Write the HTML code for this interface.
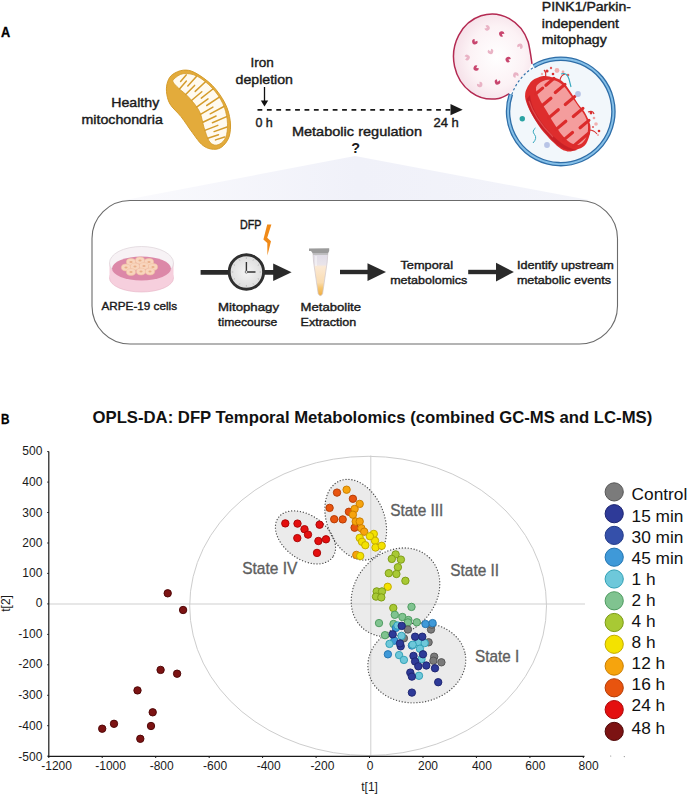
<!DOCTYPE html><html><head><meta charset="utf-8"><style>html,body{margin:0;padding:0;background:#fff;}svg{display:block;}text{font-family:"Liberation Sans",sans-serif;}</style></head><body>
<svg width="689" height="794" viewBox="0 0 689 794">
<defs>
<linearGradient id="wedge" gradientUnits="userSpaceOnUse" x1="125" y1="0" x2="590" y2="0"><stop offset="0" stop-color="#fafafd"/><stop offset="0.5" stop-color="#f0f1f9"/><stop offset="1" stop-color="#f3f4fa"/></linearGradient>
<radialGradient id="lyso" cx="0.55" cy="0.5" r="0.55"><stop offset="0" stop-color="#ffffff"/><stop offset="0.65" stop-color="#fcf2f5"/><stop offset="1" stop-color="#f5e0e8"/></radialGradient>
<radialGradient id="clockf" cx="0.5" cy="0.5" r="0.5"><stop offset="0" stop-color="#f4f4f4"/><stop offset="1" stop-color="#dcdcdc"/></radialGradient>
<linearGradient id="tube" x1="0" y1="0" x2="0" y2="1"><stop offset="0" stop-color="#dedae6"/><stop offset="0.28" stop-color="#e9e4ea"/><stop offset="0.33" stop-color="#fbe9d4"/><stop offset="0.7" stop-color="#fadcb0"/><stop offset="0.82" stop-color="#f6c670"/><stop offset="1" stop-color="#f1ad40"/></linearGradient>
</defs>
<text x="1" y="37.4" font-size="13.8" font-weight="700" fill="#000" text-anchor="start" textLength="9.2" lengthAdjust="spacingAndGlyphs" stroke="#000" stroke-width="0.3" >A</text>
<path d="M355,156 L589,200 L125,200 Z" fill="url(#wedge)"/>
<path d="M172.8,74.3 C175.4,72.5 179.5,70.5 183.2,70.2 C186.9,69.9 190.0,70.1 194.8,72.6 C199.7,75.1 207.3,80.3 212.3,85.4 C217.3,90.5 222.0,97.4 225.0,103.3 C228.0,109.2 229.5,115.1 230.2,120.7 C230.9,126.3 230.5,132.5 229.0,137.0 C227.5,141.5 224.0,145.5 221.0,147.5 C218.0,149.5 214.3,149.5 211.1,149.0 C207.9,148.5 204.9,147.2 201.8,144.5 C198.7,141.8 196.0,137.5 192.5,132.8 C189.0,128.2 184.8,121.4 181.0,116.6 C177.2,111.8 172.4,108.2 170.0,104.0 C167.6,99.8 166.9,95.5 166.5,91.7 C166.1,87.9 166.8,84.2 167.8,81.3 C168.9,78.4 170.2,76.1 172.8,74.3Z" fill="#e3ab3b" stroke="#d49b2a" stroke-width="1"/>
<path d="M174.0,79.0 C175.6,77.5 179.3,74.2 183.2,73.7 C187.1,73.2 192.3,73.8 197.2,76.2 C202.0,78.6 208.1,83.7 212.3,88.2 C216.6,92.7 220.2,98.1 222.7,103.3 C225.2,108.5 226.5,114.4 227.2,119.6 C227.8,124.8 227.5,130.8 226.6,134.7 C225.7,138.6 223.6,141.1 221.6,142.8 C219.6,144.5 216.7,145.5 214.6,145.1 C212.5,144.7 210.6,143.4 208.8,140.5 C207.1,137.6 205.7,132.5 204.1,127.7 C202.5,122.9 202.0,116.5 199.5,111.5 C197.0,106.5 192.5,101.4 189.0,97.5 C185.5,93.6 181.2,90.7 178.6,88.2 C176.0,85.7 174.2,83.9 173.4,82.4 C172.6,80.9 172.4,80.5 174.0,79.0Z" fill="#fffaef" stroke="#d39a2a" stroke-width="0.8"/>
<path d="M186.2,74.9 l-5.6,6.6 M196.4,76.6 l-8.6,9.4 M205.5,81.7 l-10.3,9.7 M212.9,89.0 l-11.6,9.1 M219.3,97.2 l-12.6,8.3 M223.9,106.5 l-13.7,7.3 M226.6,116.6 l-14.2,6.1 M227.0,127.0 l-12.9,4.6 M224.6,137.0 l-9.1,2.9 M179.5,89.0 l6.9,-8.0 M185.7,94.5 l8.9,-9.1 M191.5,100.5 l10.3,-8.8 M196.6,107.1 l11.4,-8.2 M200.5,114.4 l12.4,-7.3 M202.9,122.3 l13.2,-6.3 M204.9,130.4 l12.9,-5.0 M207.8,138.2 l10.7,-3.5" stroke="#d49c2c" stroke-width="1.5" stroke-linecap="round" fill="none"/>
<text x="111.3" y="106.8" font-size="13" font-weight="400" fill="#1a1a1a" text-anchor="start" textLength="47.9" lengthAdjust="spacingAndGlyphs" stroke="#1a1a1a" stroke-width="0.4" >Healthy</text>
<text x="81.5" y="123.9" font-size="13" font-weight="400" fill="#1a1a1a" text-anchor="start" textLength="81.3" lengthAdjust="spacingAndGlyphs" stroke="#1a1a1a" stroke-width="0.4" >mitochondria</text>
<text x="250.5" y="67.4" font-size="13.5" font-weight="400" fill="#1a1a1a" text-anchor="start" textLength="23.3" lengthAdjust="spacingAndGlyphs" stroke="#1a1a1a" stroke-width="0.4" >Iron</text>
<text x="235.5" y="83.7" font-size="13.5" font-weight="400" fill="#1a1a1a" text-anchor="start" textLength="57.5" lengthAdjust="spacingAndGlyphs" stroke="#1a1a1a" stroke-width="0.4" >depletion</text>
<line x1="264.5" y1="87" x2="264.5" y2="102" stroke="#111" stroke-width="1.3"/>
<path d="M260.8,100.5 L268.2,100.5 L264.5,106.5 Z" fill="#111"/>
<line x1="257.5" y1="109.8" x2="451" y2="109.8" stroke="#1a1a1a" stroke-width="1.8" stroke-dasharray="4.8 4.6"/>
<path d="M450.5,104.1 L462.7,109.7 L450.5,115.3 Z" fill="#1a1a1a"/>
<text x="255.4" y="126.7" font-size="13" font-weight="400" fill="#1a1a1a" text-anchor="start" textLength="17.4" lengthAdjust="spacingAndGlyphs" stroke="#1a1a1a" stroke-width="0.4" >0 h</text>
<text x="433.5" y="126.8" font-size="13" font-weight="400" fill="#1a1a1a" text-anchor="start" textLength="25.3" lengthAdjust="spacingAndGlyphs" stroke="#1a1a1a" stroke-width="0.4" >24 h</text>
<text x="291.9" y="136.4" font-size="13" font-weight="400" fill="#1a1a1a" text-anchor="start" textLength="130.1" lengthAdjust="spacingAndGlyphs" stroke="#1a1a1a" stroke-width="0.4" >Metabolic regulation</text>
<text x="351.2" y="152.9" font-size="15" font-weight="700" fill="#1a1a1a" text-anchor="start" textLength="8.8" lengthAdjust="spacingAndGlyphs" >?</text>
<path d="M509,93.7 C505,96 502,97.8 498.7,98.4 A38.5,42.5 0 1 1 528.2,42 C530,49 531,57 532,63.8 L520,85 Z" fill="url(#lyso)"/>
<path d="M509,93.7 C505,96 502,97.8 498.7,98.4 A38.5,42.5 0 1 1 528.2,42 C530,49 531,57 532,63.8" fill="none" stroke="#b42a52" stroke-width="1.5"/>
<path d="M487.00,27.90 L485.45,25.69 A2.7,2.7 0 1 1 484.39,28.60 Z" fill="#e9b3c5"/>
<path d="M501.80,34.00 L502.94,36.45 A2.7,2.7 0 1 1 504.49,33.76 Z" fill="#c8456e"/>
<path d="M474.80,41.80 L477.25,40.66 A2.7,2.7 0 1 1 474.56,39.11 Z" fill="#c8456e"/>
<path d="M520.00,46.20 L517.55,47.34 A2.7,2.7 0 1 1 520.24,48.89 Z" fill="#e9b3c5"/>
<path d="M490.50,51.40 L491.20,48.79 A2.7,2.7 0 1 1 488.29,49.85 Z" fill="#e9b3c5"/>
<path d="M467.00,57.50 L464.55,56.36 A2.7,2.7 0 1 1 465.09,59.41 Z" fill="#e9b3c5"/>
<path d="M508.30,59.60 L509.85,61.81 A2.7,2.7 0 1 1 510.91,58.90 Z" fill="#c8456e"/>
<path d="M476.20,68.00 L478.89,68.24 A2.7,2.7 0 1 1 477.34,65.55 Z" fill="#c8456e"/>
<path d="M515.80,75.00 L515.56,77.69 A2.7,2.7 0 1 1 518.25,76.14 Z" fill="#e9b3c5"/>
<path d="M497.50,81.90 L499.71,80.35 A2.7,2.7 0 1 1 496.80,79.29 Z" fill="#c8456e"/>
<path d="M479.70,84.50 L479.46,81.81 A2.7,2.7 0 1 1 477.09,83.80 Z" fill="#e9b3c5"/>
<circle cx="561" cy="111.6" r="52.5" fill="#f2f7fb"/>
<path d="M533.7,66.2 A52.7,52.7 0 1 1 510.9,94.3" fill="none" stroke="#2f6ea8" stroke-width="4.5"/>
<path d="M533.7,66.2 A52.7,52.7 0 1 1 510.9,94.3" fill="none" stroke="#86c0e8" stroke-width="1.9"/>
<path d="M511.8,94.6 A52,52 0 0 1 534.2,67" fill="none" stroke="#2f6ea8" stroke-width="1.1" stroke-dasharray="2.4 2.2"/>
<path d="M525.2,93.4 C525.8,89.5 528.8,84.5 531.0,81.8 C533.2,79.1 535.8,78.4 538.2,77.4 C540.6,76.4 543.1,76.0 545.5,76.0 C547.9,76.0 550.5,76.9 552.7,77.4 C554.9,77.9 556.6,77.9 558.5,78.9 C560.4,79.9 562.1,80.8 564.3,83.2 C566.5,85.6 569.2,89.8 571.6,93.4 C574.0,97.0 576.7,101.9 578.9,105.0 C581.1,108.1 583.0,109.5 584.7,112.2 C586.4,114.9 588.0,118.3 589.0,121.0 C590.0,123.7 590.5,125.5 590.5,128.2 C590.5,130.8 590.0,134.0 589.0,136.9 C588.0,139.8 586.9,143.4 584.7,145.6 C582.5,147.8 578.9,149.0 576.0,150.0 C573.1,151.0 570.2,151.9 567.3,151.4 C564.4,150.9 562.4,150.2 558.5,147.1 C554.6,144.0 548.1,137.4 544.0,132.6 C539.9,127.8 536.7,122.6 533.9,118.0 C531.1,113.4 528.8,109.1 527.3,105.0 C525.8,100.9 524.6,97.3 525.2,93.4Z" fill="#de2d2d"/>
<path d="M526.5,99 C528,112 540,128 552,140 C560,148 568,152 577,150 C566,148 556,140 547,129 C537,117 531,106 530,95 Z" fill="#c41f26" opacity="0.85"/>
<path d="M529,101 C533,114 543,127 553,137" fill="none" stroke="#ea5a5a" stroke-width="1.2" opacity="0.7"/>
<path d="M536.0,87.5 C536.5,84.8 539.7,82.8 542.0,81.5 C544.3,80.2 547.4,79.8 550.0,79.8 C552.6,79.8 555.1,80.3 557.5,81.5 C559.9,82.7 562.2,84.5 564.5,87.0 C566.8,89.5 569.2,93.2 571.5,96.5 C573.8,99.8 576.3,103.4 578.5,106.5 C580.7,109.6 583.0,112.1 584.5,115.0 C586.0,117.9 587.3,120.9 587.8,124.0 C588.3,127.1 588.1,130.7 587.5,133.5 C586.9,136.3 585.6,139.1 584.0,141.0 C582.4,142.9 580.3,144.8 578.0,145.0 C575.7,145.2 572.7,144.2 570.0,142.5 C567.3,140.8 564.7,138.2 562.0,135.0 C559.3,131.8 556.7,127.7 554.0,123.5 C551.3,119.3 548.5,114.2 546.0,110.0 C543.5,105.8 540.7,101.8 539.0,98.0 C537.3,94.2 535.5,90.2 536.0,87.5Z" fill="#f49d9d"/>
<path d="M553.9,78.4 l-8.0,6.8 M564.9,84.4 l-9.6,8.1 M574.9,96.4 l-9.6,8.1 M582.9,108.4 l-9.6,8.1 M588.9,120.4 l-8.8,7.4 M588.4,133.4 l-8.0,6.8 M535.7,93.9 l6.9,-5.8 M541.7,105.9 l9.2,-7.7 M548.7,117.9 l9.6,-8.1 M556.2,129.4 l9.6,-8.1 M563.7,139.9 l8.8,-7.4 M573.7,145.9 l6.1,-5.2" stroke="#dc2b2b" stroke-width="3.2" stroke-linecap="round" fill="none"/>
<circle cx="547" cy="71" r="1.6" fill="#d83030"/>
<circle cx="551" cy="68" r="1.2" fill="#e55a5a"/>
<circle cx="557" cy="70.5" r="2.4" fill="#f3b0b0"/>
<circle cx="563" cy="72" r="1.4" fill="#f0a8a8"/>
<circle cx="568" cy="75" r="1.3" fill="#e26060"/>
<circle cx="553" cy="74" r="1.3" fill="#d83030"/>
<circle cx="542" cy="74" r="1.2" fill="#f0b0b0"/>
<circle cx="591" cy="113" r="1.4" fill="#d83030"/>
<circle cx="594" cy="118" r="1.3" fill="#f0a0a0"/>
<circle cx="596" cy="124" r="1.8" fill="#f2b0b0"/>
<circle cx="599" cy="131" r="1.3" fill="#d83030"/>
<circle cx="593" cy="127" r="1.1" fill="#e26060"/>
<circle cx="598" cy="135" r="1.0" fill="#f0a0a0"/>
<path d="M545,78 q2,-5 -1,-8 M560,80 q1,-5 5,-6 M588,112 q5,-2 6,2 M589,130 q5,0 8,4" fill="none" stroke="#d83030" stroke-width="1.2"/>
<circle cx="522.3" cy="118.8" r="2.7" fill="#2aa3a3"/>
<circle cx="578" cy="94" r="2.9" fill="#b8c4e6"/>
<circle cx="547" cy="145" r="2.9" fill="#b8c4e6"/>
<path d="M535.5,128 q-4,3 -1,6.5 q3,3.5 -1.5,8.5" fill="none" stroke="#35a7bd" stroke-width="1"/>
<path d="M561,74 q6,-2 8,5 q1,4 2,8" fill="none" stroke="#35a7bd" stroke-width="1.1"/>
<text x="541.8" y="11.3" font-size="13" font-weight="400" fill="#1a1a1a" text-anchor="start" textLength="89.2" lengthAdjust="spacingAndGlyphs" stroke="#1a1a1a" stroke-width="0.4" >PINK1/Parkin-</text>
<text x="541.8" y="28.2" font-size="13" font-weight="400" fill="#1a1a1a" text-anchor="start" textLength="77.1" lengthAdjust="spacingAndGlyphs" stroke="#1a1a1a" stroke-width="0.4" >independent</text>
<text x="541.8" y="44.4" font-size="13" font-weight="400" fill="#1a1a1a" text-anchor="start" textLength="64.9" lengthAdjust="spacingAndGlyphs" stroke="#1a1a1a" stroke-width="0.4" >mitophagy</text>
<rect x="92" y="200.5" width="525.5" height="143.5" rx="38" ry="38" fill="none" stroke="#6b6b6b" stroke-width="1.1"/>
<ellipse cx="141.5" cy="278" rx="32" ry="14" fill="#f6cfdd" stroke="#e6b3c4" stroke-width="0.6"/>
<rect x="109.5" y="263" width="64" height="15" fill="#f6cfdd"/>
<ellipse cx="141.5" cy="263" rx="32" ry="16.5" fill="#f7f2f5" stroke="#dcd3d8" stroke-width="0.7"/>
<ellipse cx="141.5" cy="268.5" rx="29.5" ry="12" fill="#dc88a8"/>
<ellipse cx="131" cy="262" rx="4.6" ry="3.4" fill="#f8d5bd" stroke="#f2c3a3" stroke-width="0.6"/>
<ellipse cx="140" cy="260.5" rx="4.6" ry="3.4" fill="#f8d5bd" stroke="#f2c3a3" stroke-width="0.6"/>
<ellipse cx="149" cy="262" rx="4.6" ry="3.4" fill="#f8d5bd" stroke="#f2c3a3" stroke-width="0.6"/>
<ellipse cx="126" cy="267.5" rx="4.6" ry="3.4" fill="#f8d5bd" stroke="#f2c3a3" stroke-width="0.6"/>
<ellipse cx="135" cy="266.5" rx="4.6" ry="3.4" fill="#f8d5bd" stroke="#f2c3a3" stroke-width="0.6"/>
<ellipse cx="144" cy="266" rx="4.6" ry="3.4" fill="#f8d5bd" stroke="#f2c3a3" stroke-width="0.6"/>
<ellipse cx="153" cy="267" rx="4.6" ry="3.4" fill="#f8d5bd" stroke="#f2c3a3" stroke-width="0.6"/>
<ellipse cx="131" cy="272" rx="4.6" ry="3.4" fill="#f8d5bd" stroke="#f2c3a3" stroke-width="0.6"/>
<ellipse cx="141" cy="271.5" rx="4.6" ry="3.4" fill="#f8d5bd" stroke="#f2c3a3" stroke-width="0.6"/>
<ellipse cx="150" cy="271.5" rx="4.6" ry="3.4" fill="#f8d5bd" stroke="#f2c3a3" stroke-width="0.6"/>
<ellipse cx="131" cy="262" rx="1.6" ry="1.0" fill="#e8b08a"/>
<ellipse cx="140" cy="260.5" rx="1.6" ry="1.0" fill="#e8b08a"/>
<ellipse cx="149" cy="262" rx="1.6" ry="1.0" fill="#e8b08a"/>
<ellipse cx="126" cy="267.5" rx="1.6" ry="1.0" fill="#e8b08a"/>
<ellipse cx="135" cy="266.5" rx="1.6" ry="1.0" fill="#e8b08a"/>
<ellipse cx="144" cy="266" rx="1.6" ry="1.0" fill="#e8b08a"/>
<ellipse cx="153" cy="267" rx="1.6" ry="1.0" fill="#e8b08a"/>
<ellipse cx="131" cy="272" rx="1.6" ry="1.0" fill="#e8b08a"/>
<ellipse cx="141" cy="271.5" rx="1.6" ry="1.0" fill="#e8b08a"/>
<ellipse cx="150" cy="271.5" rx="1.6" ry="1.0" fill="#e8b08a"/>
<line x1="200.6" y1="272.3" x2="275" y2="272.3" stroke="#2a2a2a" stroke-width="4.8"/>
<path d="M273.2,263.5 L291.6,272.3 L273.2,281 Z" fill="#2a2a2a"/>
<circle cx="246.4" cy="272" r="17.2" fill="url(#clockf)" stroke="#2f2f2f" stroke-width="2.9"/>
<path d="M246.4,258.8 L246.4,257.4 M253.0,260.6 L253.7,259.4 M257.8,265.4 L259.0,264.7 M259.6,272.0 L261.0,272.0 M257.8,278.6 L259.0,279.3 M253.0,283.4 L253.7,284.6 M246.4,285.2 L246.4,286.6 M239.8,283.4 L239.1,284.6 M235.0,278.6 L233.8,279.3 M233.2,272.0 L231.8,272.0 M235.0,265.4 L233.8,264.7 M239.8,260.6 L239.1,259.4" stroke="#9a9a9a" stroke-width="0.6"/>
<path d="M246.4,262 L246.4,272 L255.5,272" fill="none" stroke="#333" stroke-width="1.4"/>
<circle cx="246.4" cy="272" r="1.2" fill="#fff" stroke="#333" stroke-width="0.6"/>
<text x="240" y="228.6" font-size="12.3" font-weight="400" fill="#1a1a1a" text-anchor="start" textLength="21.4" lengthAdjust="spacingAndGlyphs" stroke="#1a1a1a" stroke-width="0.45" >DFP</text>
<path d="M267.2,224.4 L271.4,224.6 L267.2,237.8 L271,241.2 L267.4,255.5 L267.3,243 L263.4,239.4 Z" fill="#f08a18"/>
<path d="M312.9,252.5 L327.9,252.5 L327.2,262 L322.6,293.8 Q320.4,297.5 318.2,293.8 L313.6,262 Z" fill="url(#tube)" stroke="#cfc6cc" stroke-width="0.7"/>
<path d="M316,256 L316,266" stroke="#ffffff" stroke-width="1.2" opacity="0.7"/>
<path d="M309,248.6 L329.2,248.2 L329.2,251 L327.9,253.5 L312.9,253.5 L311,251 L309,251 Z" fill="#9b9b9b"/>
<rect x="313" y="253.5" width="14.9" height="1.4" fill="#bcbcbc"/>
<line x1="340" y1="272" x2="369" y2="272" stroke="#2a2a2a" stroke-width="4.4"/>
<path d="M367.5,263.2 L386,272 L367.5,280.9 Z" fill="#2a2a2a"/>
<line x1="468.2" y1="272" x2="497.5" y2="272" stroke="#2a2a2a" stroke-width="4.4"/>
<path d="M496,262.8 L513.9,272 L496,281.4 Z" fill="#2a2a2a"/>
<text x="101.5" y="310.4" font-size="11.5" font-weight="400" fill="#1a1a1a" text-anchor="start" textLength="75.5" lengthAdjust="spacingAndGlyphs" stroke="#1a1a1a" stroke-width="0.4" >ARPE-19 cells</text>
<text x="218.1" y="311.3" font-size="11.5" font-weight="400" fill="#1a1a1a" text-anchor="start" textLength="60.9" lengthAdjust="spacingAndGlyphs" stroke="#1a1a1a" stroke-width="0.4" >Mitophagy</text>
<text x="218.1" y="325.7" font-size="11.5" font-weight="400" fill="#1a1a1a" text-anchor="start" textLength="59.2" lengthAdjust="spacingAndGlyphs" stroke="#1a1a1a" stroke-width="0.4" >timecourse</text>
<text x="300.6" y="311.3" font-size="11.5" font-weight="400" fill="#1a1a1a" text-anchor="start" textLength="60.4" lengthAdjust="spacingAndGlyphs" stroke="#1a1a1a" stroke-width="0.4" >Metabolite</text>
<text x="300.6" y="325.7" font-size="11.5" font-weight="400" fill="#1a1a1a" text-anchor="start" textLength="55.7" lengthAdjust="spacingAndGlyphs" stroke="#1a1a1a" stroke-width="0.4" >Extraction</text>
<text x="400.4" y="269.3" font-size="11.5" font-weight="400" fill="#1a1a1a" text-anchor="start" textLength="52.6" lengthAdjust="spacingAndGlyphs" stroke="#1a1a1a" stroke-width="0.4" >Temporal</text>
<text x="390.2" y="283.6" font-size="11.5" font-weight="400" fill="#1a1a1a" text-anchor="start" textLength="77.2" lengthAdjust="spacingAndGlyphs" stroke="#1a1a1a" stroke-width="0.4" >metabolomics</text>
<text x="516.9" y="269" font-size="11.5" font-weight="400" fill="#1a1a1a" text-anchor="start" textLength="96.8" lengthAdjust="spacingAndGlyphs" stroke="#1a1a1a" stroke-width="0.4" >Identify upstream</text>
<text x="516.9" y="283.7" font-size="11.5" font-weight="400" fill="#1a1a1a" text-anchor="start" textLength="94.1" lengthAdjust="spacingAndGlyphs" stroke="#1a1a1a" stroke-width="0.4" >metabolic events</text>
<text x="1" y="423.8" font-size="13.8" font-weight="700" fill="#000" text-anchor="start" textLength="8.5" lengthAdjust="spacingAndGlyphs" stroke="#000" stroke-width="0.3" >B</text>
<text x="92.5" y="422.6" font-size="16.3" font-weight="700" fill="#111" text-anchor="start" textLength="559.8" lengthAdjust="spacingAndGlyphs" >OPLS-DA: DFP Temporal Metabolomics (combined GC-MS and LC-MS)</text>
<ellipse cx="305.5" cy="537.4" rx="33.6" ry="21.9" transform="rotate(36 305.5 537.4)" fill="#ebebeb"/>
<ellipse cx="355.7" cy="519.7" rx="42" ry="28.6" transform="rotate(67.9 355.7 519.7)" fill="#ebebeb"/>
<ellipse cx="395.5" cy="592.4" rx="48.5" ry="39.8" transform="rotate(-45.4 395.5 592.4)" fill="#ebebeb"/>
<ellipse cx="416.8" cy="662.8" rx="49.2" ry="39.7" transform="rotate(-10 416.8 662.8)" fill="#ebebeb"/>
<line x1="49" y1="604" x2="585" y2="604" stroke="#cfcfcf" stroke-width="1"/>
<line x1="370.8" y1="455.5" x2="370.8" y2="756" stroke="#cfcfcf" stroke-width="1"/>
<ellipse cx="368.1" cy="605.9" rx="178.4" ry="149.6" fill="none" stroke="#cdcdcd" stroke-width="1"/>
<line x1="48.8" y1="451.5" x2="48.8" y2="756.9" stroke="#1a1a1a" stroke-width="1.2"/>
<line x1="48.2" y1="756.3" x2="584.5" y2="756.3" stroke="#1a1a1a" stroke-width="1.2"/>
<path d="M47.2,451.6 L48.8,451.6 M47.2,482.1 L48.8,482.1 M47.2,512.5 L48.8,512.5 M47.2,543.0 L48.8,543.0 M47.2,573.4 L48.8,573.4 M47.2,603.9 L48.8,603.9 M47.2,634.4 L48.8,634.4 M47.2,664.8 L48.8,664.8 M47.2,695.3 L48.8,695.3 M47.2,725.7 L48.8,725.7 M47.2,756.2 L48.8,756.2" stroke="#1a1a1a" stroke-width="1"/>
<path d="M48.8,756.3 L48.8,758 M102.2,756.3 L102.2,758 M155.7,756.3 L155.7,758 M209.2,756.3 L209.2,758 M262.6,756.3 L262.6,758 M316.1,756.3 L316.1,758 M369.5,756.3 L369.5,758 M423.0,756.3 L423.0,758 M476.4,756.3 L476.4,758 M529.9,756.3 L529.9,758 M583.3,756.3 L583.3,758" stroke="#1a1a1a" stroke-width="1"/>
<text x="42.4" y="455.2" font-size="12" font-weight="400" fill="#1a1a1a" text-anchor="end" >500</text>
<text x="42.4" y="485.8" font-size="12" font-weight="400" fill="#1a1a1a" text-anchor="end" >400</text>
<text x="42.4" y="516.9" font-size="12" font-weight="400" fill="#1a1a1a" text-anchor="end" >300</text>
<text x="42.4" y="547.0" font-size="12" font-weight="400" fill="#1a1a1a" text-anchor="end" >200</text>
<text x="42.4" y="576.9" font-size="12" font-weight="400" fill="#1a1a1a" text-anchor="end" >100</text>
<text x="42.4" y="607.3" font-size="12" font-weight="400" fill="#1a1a1a" text-anchor="end" >0</text>
<text x="42.4" y="637.8" font-size="12" font-weight="400" fill="#1a1a1a" text-anchor="end" >-100</text>
<text x="42.4" y="668.4" font-size="12" font-weight="400" fill="#1a1a1a" text-anchor="end" >-200</text>
<text x="42.4" y="698.8" font-size="12" font-weight="400" fill="#1a1a1a" text-anchor="end" >-300</text>
<text x="42.4" y="729.6999999999999" font-size="12" font-weight="400" fill="#1a1a1a" text-anchor="end" >-400</text>
<text x="42.4" y="760.5" font-size="12" font-weight="400" fill="#1a1a1a" text-anchor="end" >-500</text>
<text x="56.6" y="770.1" font-size="12" font-weight="400" fill="#1a1a1a" text-anchor="middle" >-1200</text>
<text x="110.6" y="770.1" font-size="12" font-weight="400" fill="#1a1a1a" text-anchor="middle" >-1000</text>
<text x="161.7" y="770.1" font-size="12" font-weight="400" fill="#1a1a1a" text-anchor="middle" >-800</text>
<text x="215.1" y="770.1" font-size="12" font-weight="400" fill="#1a1a1a" text-anchor="middle" >-600</text>
<text x="268.7" y="770.1" font-size="12" font-weight="400" fill="#1a1a1a" text-anchor="middle" >-400</text>
<text x="322.4" y="770.1" font-size="12" font-weight="400" fill="#1a1a1a" text-anchor="middle" >-200</text>
<text x="370.2" y="770.1" font-size="12" font-weight="400" fill="#1a1a1a" text-anchor="middle" >0</text>
<text x="428" y="770.1" font-size="12" font-weight="400" fill="#1a1a1a" text-anchor="middle" >200</text>
<text x="481.9" y="770.1" font-size="12" font-weight="400" fill="#1a1a1a" text-anchor="middle" >400</text>
<text x="535.3" y="770.1" font-size="12" font-weight="400" fill="#1a1a1a" text-anchor="middle" >600</text>
<text x="588.6" y="770.1" font-size="12" font-weight="400" fill="#1a1a1a" text-anchor="middle" >800</text>
<text x="369.6" y="790.5" font-size="12" font-weight="400" fill="#1a1a1a" text-anchor="middle" >t[1]</text>
<text x="0" y="0" font-size="12" fill="#1a1a1a" text-anchor="middle" transform="translate(10.3,603.4) rotate(-90)">t[2]</text>
<ellipse cx="305.5" cy="537.4" rx="33.6" ry="21.9" transform="rotate(36 305.5 537.4)" fill="none" stroke="#4d4d4d" stroke-width="1.3" stroke-dasharray="0.1 2.85" stroke-linecap="round"/>
<ellipse cx="355.7" cy="519.7" rx="42" ry="28.6" transform="rotate(67.9 355.7 519.7)" fill="none" stroke="#4d4d4d" stroke-width="1.3" stroke-dasharray="0.1 2.85" stroke-linecap="round"/>
<ellipse cx="395.5" cy="592.4" rx="48.5" ry="39.8" transform="rotate(-45.4 395.5 592.4)" fill="none" stroke="#4d4d4d" stroke-width="1.3" stroke-dasharray="0.1 2.85" stroke-linecap="round"/>
<ellipse cx="416.8" cy="662.8" rx="49.2" ry="39.7" transform="rotate(-10 416.8 662.8)" fill="none" stroke="#4d4d4d" stroke-width="1.3" stroke-dasharray="0.1 2.85" stroke-linecap="round"/>
<circle cx="167.7" cy="593.3" r="3.7" fill="#7c1313" stroke="#4e0606" stroke-width="0.95"/>
<circle cx="183.1" cy="610" r="3.7" fill="#7c1313" stroke="#4e0606" stroke-width="0.95"/>
<circle cx="160.6" cy="669.9" r="3.7" fill="#7c1313" stroke="#4e0606" stroke-width="0.95"/>
<circle cx="177.1" cy="673.7" r="3.7" fill="#7c1313" stroke="#4e0606" stroke-width="0.95"/>
<circle cx="137.5" cy="690.4" r="3.7" fill="#7c1313" stroke="#4e0606" stroke-width="0.95"/>
<circle cx="152.7" cy="712.3" r="3.7" fill="#7c1313" stroke="#4e0606" stroke-width="0.95"/>
<circle cx="114" cy="723.8" r="3.7" fill="#7c1313" stroke="#4e0606" stroke-width="0.95"/>
<circle cx="102.2" cy="728.7" r="3.7" fill="#7c1313" stroke="#4e0606" stroke-width="0.95"/>
<circle cx="151" cy="726" r="3.7" fill="#7c1313" stroke="#4e0606" stroke-width="0.95"/>
<circle cx="140.3" cy="738.8" r="3.7" fill="#7c1313" stroke="#4e0606" stroke-width="0.95"/>
<circle cx="285.3" cy="523.4" r="3.7" fill="#e40f0f" stroke="#aa0505" stroke-width="0.95"/>
<circle cx="297.5" cy="523.6" r="3.7" fill="#e40f0f" stroke="#aa0505" stroke-width="0.95"/>
<circle cx="319.6" cy="524.7" r="3.7" fill="#e40f0f" stroke="#aa0505" stroke-width="0.95"/>
<circle cx="304.5" cy="529.2" r="3.7" fill="#e40f0f" stroke="#aa0505" stroke-width="0.95"/>
<circle cx="308" cy="534.6" r="3.7" fill="#e40f0f" stroke="#aa0505" stroke-width="0.95"/>
<circle cx="297.3" cy="538.1" r="3.7" fill="#e40f0f" stroke="#aa0505" stroke-width="0.95"/>
<circle cx="318.4" cy="541" r="3.7" fill="#e40f0f" stroke="#aa0505" stroke-width="0.95"/>
<circle cx="326" cy="539.3" r="3.7" fill="#e40f0f" stroke="#aa0505" stroke-width="0.95"/>
<circle cx="317" cy="552.9" r="3.7" fill="#e40f0f" stroke="#aa0505" stroke-width="0.95"/>
<circle cx="337" cy="492.6" r="3.7" fill="#e8540f" stroke="#b33b04" stroke-width="0.95"/>
<circle cx="352.9" cy="498.8" r="3.7" fill="#e8540f" stroke="#b33b04" stroke-width="0.95"/>
<circle cx="329.6" cy="507.9" r="3.7" fill="#e8540f" stroke="#b33b04" stroke-width="0.95"/>
<circle cx="348.9" cy="511.8" r="3.7" fill="#e8540f" stroke="#b33b04" stroke-width="0.95"/>
<circle cx="334.2" cy="519.2" r="3.7" fill="#e8540f" stroke="#b33b04" stroke-width="0.95"/>
<circle cx="342.7" cy="519.4" r="3.7" fill="#e8540f" stroke="#b33b04" stroke-width="0.95"/>
<circle cx="354.6" cy="527.7" r="3.7" fill="#e8540f" stroke="#b33b04" stroke-width="0.95"/>
<circle cx="346.6" cy="489.7" r="3.7" fill="#f6a40d" stroke="#c97c00" stroke-width="0.95"/>
<circle cx="359.7" cy="503.9" r="3.7" fill="#f6a40d" stroke="#c97c00" stroke-width="0.95"/>
<circle cx="354.6" cy="509" r="3.7" fill="#f6a40d" stroke="#c97c00" stroke-width="0.95"/>
<circle cx="352.9" cy="514.7" r="3.7" fill="#f6a40d" stroke="#c97c00" stroke-width="0.95"/>
<circle cx="355.7" cy="521.5" r="3.7" fill="#f6a40d" stroke="#c97c00" stroke-width="0.95"/>
<circle cx="359.7" cy="521.5" r="3.7" fill="#f6a40d" stroke="#c97c00" stroke-width="0.95"/>
<circle cx="361.4" cy="528.3" r="3.7" fill="#f6a40d" stroke="#c97c00" stroke-width="0.95"/>
<circle cx="364.2" cy="531.7" r="3.7" fill="#f6a40d" stroke="#c97c00" stroke-width="0.95"/>
<circle cx="356.3" cy="554.9" r="3.7" fill="#f6a40d" stroke="#c97c00" stroke-width="0.95"/>
<circle cx="373.8" cy="533.9" r="3.7" fill="#f3e200" stroke="#c2aa00" stroke-width="0.95"/>
<circle cx="359.7" cy="537.9" r="3.7" fill="#f3e200" stroke="#c2aa00" stroke-width="0.95"/>
<circle cx="362" cy="541.8" r="3.7" fill="#f3e200" stroke="#c2aa00" stroke-width="0.95"/>
<circle cx="375" cy="540.7" r="3.7" fill="#f3e200" stroke="#c2aa00" stroke-width="0.95"/>
<circle cx="365.3" cy="545.2" r="3.7" fill="#f3e200" stroke="#c2aa00" stroke-width="0.95"/>
<circle cx="375.5" cy="547.5" r="3.7" fill="#f3e200" stroke="#c2aa00" stroke-width="0.95"/>
<circle cx="381.7" cy="545.8" r="3.7" fill="#f3e200" stroke="#c2aa00" stroke-width="0.95"/>
<circle cx="360.2" cy="556" r="3.7" fill="#f3e200" stroke="#c2aa00" stroke-width="0.95"/>
<circle cx="369.9" cy="536.2" r="3.7" fill="#f3e200" stroke="#c2aa00" stroke-width="0.95"/>
<circle cx="387.7" cy="586.8" r="3.7" fill="#f3e200" stroke="#c2aa00" stroke-width="0.95"/>
<circle cx="395.6" cy="554.4" r="3.7" fill="#a8c934" stroke="#7c9a14" stroke-width="0.95"/>
<circle cx="391.8" cy="558.9" r="3.7" fill="#a8c934" stroke="#7c9a14" stroke-width="0.95"/>
<circle cx="400.9" cy="559.6" r="3.7" fill="#a8c934" stroke="#7c9a14" stroke-width="0.95"/>
<circle cx="397.9" cy="567.2" r="3.7" fill="#a8c934" stroke="#7c9a14" stroke-width="0.95"/>
<circle cx="388.8" cy="573.2" r="3.7" fill="#a8c934" stroke="#7c9a14" stroke-width="0.95"/>
<circle cx="396.4" cy="574" r="3.7" fill="#a8c934" stroke="#7c9a14" stroke-width="0.95"/>
<circle cx="405.4" cy="580.8" r="3.7" fill="#a8c934" stroke="#7c9a14" stroke-width="0.95"/>
<circle cx="376.7" cy="591.4" r="3.7" fill="#a8c934" stroke="#7c9a14" stroke-width="0.95"/>
<circle cx="382" cy="591.4" r="3.7" fill="#a8c934" stroke="#7c9a14" stroke-width="0.95"/>
<circle cx="376" cy="596.6" r="3.7" fill="#a8c934" stroke="#7c9a14" stroke-width="0.95"/>
<circle cx="381.3" cy="597.4" r="3.7" fill="#a8c934" stroke="#7c9a14" stroke-width="0.95"/>
<circle cx="393.3" cy="608" r="3.7" fill="#a8c934" stroke="#7c9a14" stroke-width="0.95"/>
<circle cx="411.5" cy="606.9" r="3.7" fill="#80c390" stroke="#4c9a5e" stroke-width="0.95"/>
<circle cx="394.8" cy="614.8" r="3.7" fill="#80c390" stroke="#4c9a5e" stroke-width="0.95"/>
<circle cx="402.4" cy="617" r="3.7" fill="#80c390" stroke="#4c9a5e" stroke-width="0.95"/>
<circle cx="379" cy="623.1" r="3.7" fill="#80c390" stroke="#4c9a5e" stroke-width="0.95"/>
<circle cx="408.4" cy="620" r="3.7" fill="#80c390" stroke="#4c9a5e" stroke-width="0.95"/>
<circle cx="416.8" cy="622.3" r="3.7" fill="#80c390" stroke="#4c9a5e" stroke-width="0.95"/>
<circle cx="385" cy="635.2" r="3.7" fill="#80c390" stroke="#4c9a5e" stroke-width="0.95"/>
<circle cx="407.9" cy="622.4" r="3.7" fill="#80c390" stroke="#4c9a5e" stroke-width="0.95"/>
<circle cx="393.5" cy="624" r="3.7" fill="#80c390" stroke="#4c9a5e" stroke-width="0.95"/>
<circle cx="407.9" cy="629.5" r="3.7" fill="#7b7b7b" stroke="#555555" stroke-width="0.95"/>
<circle cx="431" cy="629.5" r="3.7" fill="#7b7b7b" stroke="#555555" stroke-width="0.95"/>
<circle cx="431.8" cy="624.7" r="3.7" fill="#7b7b7b" stroke="#555555" stroke-width="0.95"/>
<circle cx="428.6" cy="642.3" r="3.7" fill="#7b7b7b" stroke="#555555" stroke-width="0.95"/>
<circle cx="434.2" cy="656.7" r="3.7" fill="#7b7b7b" stroke="#555555" stroke-width="0.95"/>
<circle cx="433.4" cy="660.7" r="3.7" fill="#7b7b7b" stroke="#555555" stroke-width="0.95"/>
<circle cx="441.4" cy="662.3" r="3.7" fill="#7b7b7b" stroke="#555555" stroke-width="0.95"/>
<circle cx="403.9" cy="638.3" r="3.7" fill="#7b7b7b" stroke="#555555" stroke-width="0.95"/>
<circle cx="387.9" cy="654.3" r="3.7" fill="#3f99d8" stroke="#2374b0" stroke-width="0.95"/>
<circle cx="394.3" cy="640.7" r="3.7" fill="#3f99d8" stroke="#2374b0" stroke-width="0.95"/>
<circle cx="425.5" cy="624" r="3.7" fill="#3f99d8" stroke="#2374b0" stroke-width="0.95"/>
<circle cx="432.6" cy="623.1" r="3.7" fill="#3f99d8" stroke="#2374b0" stroke-width="0.95"/>
<circle cx="411.9" cy="645.5" r="3.7" fill="#3f99d8" stroke="#2374b0" stroke-width="0.95"/>
<circle cx="395.9" cy="627.9" r="3.7" fill="#3f99d8" stroke="#2374b0" stroke-width="0.95"/>
<circle cx="397.5" cy="625.5" r="3.7" fill="#6ec8da" stroke="#2f9fb4" stroke-width="0.95"/>
<circle cx="401.5" cy="635.9" r="3.7" fill="#6ec8da" stroke="#2f9fb4" stroke-width="0.95"/>
<circle cx="389.5" cy="643.9" r="3.7" fill="#6ec8da" stroke="#2f9fb4" stroke-width="0.95"/>
<circle cx="399.1" cy="655.1" r="3.7" fill="#6ec8da" stroke="#2f9fb4" stroke-width="0.95"/>
<circle cx="403.9" cy="659.9" r="3.7" fill="#6ec8da" stroke="#2f9fb4" stroke-width="0.95"/>
<circle cx="418.3" cy="642.3" r="3.7" fill="#6ec8da" stroke="#2f9fb4" stroke-width="0.95"/>
<circle cx="424.7" cy="643.1" r="3.7" fill="#6ec8da" stroke="#2f9fb4" stroke-width="0.95"/>
<circle cx="419.9" cy="648.7" r="3.7" fill="#6ec8da" stroke="#2f9fb4" stroke-width="0.95"/>
<circle cx="421.5" cy="659.1" r="3.7" fill="#6ec8da" stroke="#2f9fb4" stroke-width="0.95"/>
<circle cx="419" cy="675.8" r="3.7" fill="#6ec8da" stroke="#2f9fb4" stroke-width="0.95"/>
<circle cx="412.7" cy="644.7" r="3.7" fill="#6ec8da" stroke="#2f9fb4" stroke-width="0.95"/>
<circle cx="415.1" cy="636.7" r="3.7" fill="#2e3a98" stroke="#1d2570" stroke-width="0.95"/>
<circle cx="422.3" cy="636.7" r="3.7" fill="#2e3a98" stroke="#1d2570" stroke-width="0.95"/>
<circle cx="400.7" cy="646.3" r="3.7" fill="#2e3a98" stroke="#1d2570" stroke-width="0.95"/>
<circle cx="413.5" cy="655.9" r="3.7" fill="#2e3a98" stroke="#1d2570" stroke-width="0.95"/>
<circle cx="415.1" cy="661.5" r="3.7" fill="#2e3a98" stroke="#1d2570" stroke-width="0.95"/>
<circle cx="418.3" cy="666.3" r="3.7" fill="#2e3a98" stroke="#1d2570" stroke-width="0.95"/>
<circle cx="426.3" cy="665.5" r="3.7" fill="#2e3a98" stroke="#1d2570" stroke-width="0.95"/>
<circle cx="435" cy="668.3" r="3.7" fill="#2e3a98" stroke="#1d2570" stroke-width="0.95"/>
<circle cx="410.3" cy="672.6" r="3.7" fill="#2e3a98" stroke="#1d2570" stroke-width="0.95"/>
<circle cx="411.9" cy="676.6" r="3.7" fill="#2e3a98" stroke="#1d2570" stroke-width="0.95"/>
<circle cx="438.2" cy="682.2" r="3.7" fill="#2e3a98" stroke="#1d2570" stroke-width="0.95"/>
<circle cx="411.9" cy="692.6" r="3.7" fill="#2e3a98" stroke="#1d2570" stroke-width="0.95"/>
<circle cx="392.7" cy="634.3" r="3.7" fill="#2e3a98" stroke="#1d2570" stroke-width="0.95"/>
<circle cx="423" cy="654.3" r="3.7" fill="#2e3a98" stroke="#1d2570" stroke-width="0.95"/>
<circle cx="401.7" cy="625.9" r="3.7" fill="#2e3a98" stroke="#1d2570" stroke-width="0.95"/>
<circle cx="400" cy="643.4" r="3.7" fill="#2e3a98" stroke="#1d2570" stroke-width="0.95"/>
<text x="242.2" y="573.6" font-size="16.2" font-weight="400" fill="#5e5e5e" text-anchor="start" textLength="55.2" lengthAdjust="spacingAndGlyphs" stroke="#5e5e5e" stroke-width="0.35" >State IV</text>
<text x="390.2" y="515.6" font-size="16.2" font-weight="400" fill="#5e5e5e" text-anchor="start" textLength="53.2" lengthAdjust="spacingAndGlyphs" stroke="#5e5e5e" stroke-width="0.35" >State III</text>
<text x="450.3" y="575.5" font-size="16.2" font-weight="400" fill="#5e5e5e" text-anchor="start" textLength="48.8" lengthAdjust="spacingAndGlyphs" stroke="#5e5e5e" stroke-width="0.35" >State II</text>
<text x="475.1" y="662" font-size="16.2" font-weight="400" fill="#5e5e5e" text-anchor="start" textLength="44.1" lengthAdjust="spacingAndGlyphs" stroke="#5e5e5e" stroke-width="0.35" >State I</text>
<circle cx="614.2" cy="491.9" r="9.1" fill="#7b7b7b" stroke="#555555" stroke-width="1"/>
<text x="631.6" y="499.5" font-size="17.3" font-weight="400" fill="#111" text-anchor="start" >Control</text>
<circle cx="614.2" cy="513.7" r="9.1" fill="#2e3a98" stroke="#1d2570" stroke-width="1"/>
<text x="631.6" y="522.2" font-size="17.3" font-weight="400" fill="#111" text-anchor="start" >15 min</text>
<circle cx="614.2" cy="535.4" r="9.1" fill="#3550aa" stroke="#223a88" stroke-width="1"/>
<text x="631.6" y="543" font-size="17.3" font-weight="400" fill="#111" text-anchor="start" >30 min</text>
<circle cx="614.2" cy="557.2" r="9.1" fill="#3f99d8" stroke="#2374b0" stroke-width="1"/>
<text x="631.6" y="564.1" font-size="17.3" font-weight="400" fill="#111" text-anchor="start" >45 min</text>
<circle cx="614.2" cy="579.0" r="9.1" fill="#6ec8da" stroke="#2f9fb4" stroke-width="1"/>
<text x="631.6" y="585" font-size="17.3" font-weight="400" fill="#111" text-anchor="start" >1 h</text>
<circle cx="614.2" cy="600.8" r="9.1" fill="#80c390" stroke="#4c9a5e" stroke-width="1"/>
<text x="631.6" y="605.9" font-size="17.3" font-weight="400" fill="#111" text-anchor="start" >2 h</text>
<circle cx="614.2" cy="622.5" r="9.1" fill="#a8c934" stroke="#7c9a14" stroke-width="1"/>
<text x="631.6" y="626.8" font-size="17.3" font-weight="400" fill="#111" text-anchor="start" >4 h</text>
<circle cx="614.2" cy="644.3" r="9.1" fill="#f3e200" stroke="#c2aa00" stroke-width="1"/>
<text x="631.6" y="647.5" font-size="17.3" font-weight="400" fill="#111" text-anchor="start" >8 h</text>
<circle cx="614.2" cy="666.1" r="9.1" fill="#f6a40d" stroke="#c97c00" stroke-width="1"/>
<text x="631.6" y="669.1" font-size="17.3" font-weight="400" fill="#111" text-anchor="start" >12 h</text>
<circle cx="614.2" cy="687.8" r="9.1" fill="#e8540f" stroke="#b33b04" stroke-width="1"/>
<text x="631.6" y="690.1" font-size="17.3" font-weight="400" fill="#111" text-anchor="start" >16 h</text>
<circle cx="614.2" cy="709.6" r="9.1" fill="#e40f0f" stroke="#aa0505" stroke-width="1"/>
<text x="631.6" y="711" font-size="17.3" font-weight="400" fill="#111" text-anchor="start" >24 h</text>
<circle cx="614.2" cy="731.4" r="9.1" fill="#7c1313" stroke="#4e0606" stroke-width="1"/>
<text x="631.6" y="734.3" font-size="17.3" font-weight="400" fill="#111" text-anchor="start" >48 h</text>
<circle cx="610.7" cy="756" r="0.6" fill="#888"/><circle cx="624.3" cy="756.6" r="0.6" fill="#888"/>
</svg></body></html>
